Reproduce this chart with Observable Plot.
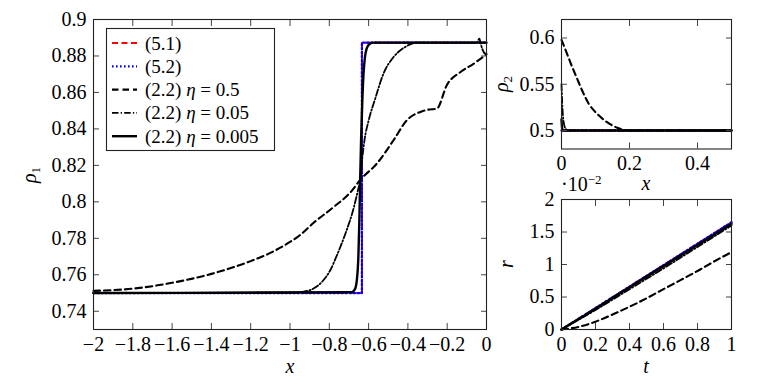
<!DOCTYPE html>
<html><head><meta charset="utf-8">
<script src="https://cdn.jsdelivr.net/npm/d3@7"></script>
<script src="https://cdn.jsdelivr.net/npm/@observablehq/plot@0.6"></script>
<style>
body{margin:0;background:#fff;}
#wrap{position:relative;width:769px;height:384px;font-family:"Liberation Serif",serif;}
#wrap svg{position:absolute;left:0;top:0;}
</style></head><body><div id="wrap"></div>
<script>
// ---------- data ----------
const legendLabels = ["(5.1)", "(5.2)", "(2.2) η = 0.5", "(2.2) η = 0.05", "(2.2) η = 0.005"];

// rho_1 panel
const r1x_51 = [-2, -0.634, -0.634, 0];
const r1y_51 = [0.75, 0.75, 0.8873, 0.8873];
const r1x_52 = [-2, -0.634, -0.634, 0];
const r1y_52 = [0.75, 0.75, 0.8873, 0.8873];
const r1x_e05 = [-2, -1.8, -1.6, -1.4, -1.2, -1.1, -1.0, -0.95, -0.88, -0.78, -0.69, -0.643, -0.558, -0.473, -0.405, -0.337, -0.30, -0.252, -0.202, -0.134, -0.066, 0];
const r1y_e05 = [0.7512, 0.7524, 0.7556, 0.7605, 0.7675, 0.772, 0.778, 0.7817, 0.7885, 0.797, 0.8055, 0.812, 0.821, 0.8338, 0.8448, 0.8493, 0.8505, 0.8512, 0.864, 0.8711, 0.8757, 0.881];
const r1x_e005 = [-2, -1.0, -0.93, -0.88, -0.83, -0.795, -0.76, -0.715, -0.68, -0.655, -0.643, -0.632, -0.62, -0.6, -0.566, -0.524, -0.473, -0.414, -0.354, -0.05, -0.036, -0.03, -0.02, -0.01, 0];
const r1y_e005 = [0.75, 0.7502, 0.7508, 0.7525, 0.757, 0.7625, 0.771, 0.7835, 0.795, 0.806, 0.812, 0.824, 0.8345, 0.8445, 0.8567, 0.8704, 0.8794, 0.8849, 0.8873, 0.8873, 0.8895, 0.887, 0.8835, 0.8815, 0.881];
const r1x_e0005 = [-2, -0.685, -0.67, -0.66, -0.652, -0.647, -0.643, -0.638, -0.632, -0.626, -0.62, -0.61, -0.595, -0.575, 0];
const r1y_e0005 = [0.75, 0.7505, 0.752, 0.757, 0.77, 0.79, 0.812, 0.835, 0.855, 0.87, 0.878, 0.884, 0.8866, 0.8873, 0.8873];

// rho_2 panel
const r2x_51 = [0, 0.5];
const r2y_51 = [0.5, 0.5];
const r2x_52 = [0, 0.5];
const r2y_52 = [0.5, 0.5];
const r2x_e05 = [0, 0.012, 0.031, 0.046, 0.061, 0.08, 0.105, 0.134, 0.164, 0.2, 0.5];
const r2y_e05 = [0.598, 0.587, 0.569, 0.556, 0.543, 0.529, 0.518, 0.509, 0.503, 0.5, 0.5];
const r2x_e005 = [0, 0.002, 0.006, 0.012, 0.02, 0.5];
const r2y_e005 = [0.55, 0.53, 0.51, 0.502, 0.5, 0.5];
const r2x_e0005 = [0, 0.002, 0.004, 0.5];
const r2y_e0005 = [0.512, 0.502, 0.5, 0.5];

// r(t) panel (values x 10^-2)
const rt_t = [0, 0.2, 0.4, 0.6, 0.8, 1];
const rt_51 = [0, 0.33, 0.66, 0.99, 1.32, 1.65];
const rt_52 = [0, 0.33, 0.66, 0.99, 1.32, 1.65];
const rt_t05 = [0, 0.1, 0.2, 0.3, 0.4, 0.5, 0.6, 0.7, 0.8, 0.9, 1];
const rt_e05 = [0, 0.04, 0.12, 0.23, 0.35, 0.48, 0.62, 0.76, 0.9, 1.05, 1.19];
const rt_e005 = [0, 0.30, 0.62, 0.94, 1.27, 1.60];
const rt_e0005 = [0, 0.32, 0.65, 0.975, 1.30, 1.625];

// tick values
const mainXTicks = [-2, -1.8, -1.6, -1.4, -1.2, -1, -0.8, -0.6, -0.4, -0.2, 0];
const mainYTicks = [0.74, 0.76, 0.78, 0.8, 0.82, 0.84, 0.86, 0.88, 0.9];
const r2XTicks = [0, 0.2, 0.4];
const r2YTicks = [0.5, 0.55, 0.6];
const rtXTicks = [0, 0.2, 0.4, 0.6, 0.8, 1];
const rtYTicks = [0, 0.5, 1, 1.5, 2];

// ---------- styles ----------
const styles = [
  {stroke: "#ff0000", strokeWidth: 2, strokeDasharray: "6,3.5"},
  {stroke: "#0000ff", strokeWidth: 2.2, strokeDasharray: "1.6,2.4"},
  {stroke: "#000", strokeWidth: 2.1, strokeDasharray: "6.5,4"},
  {stroke: "#000", strokeWidth: 1.8, strokeDasharray: "6.5,2.2,1.3,2.2"},
  {stroke: "#000", strokeWidth: 2.4, strokeDasharray: null}
];

const zip = (xs, ys) => xs.map((x, i) => ({x, y: ys[i]}));
const fmt = d => { const s = String(+Math.abs(d).toFixed(3)); return d < 0 ? "\u2212" + s : s; };

function panel(o) {
  const lines = o.series.map((s, i) => Plot.line(s, {
    x: "x", y: "y", curve: (i >= 2 ? "monotone-x" : "linear"),
    stroke: styles[i].stroke, strokeWidth: styles[i].strokeWidth,
    strokeDasharray: styles[i].strokeDasharray, strokeLinejoin: "round"
  }));
  return Plot.plot({
    width: 769, height: 384,
    marginLeft: o.ml, marginRight: o.mr, marginTop: o.mt, marginBottom: o.mb,
    style: {background: "transparent", fontFamily: "Liberation Serif", fontSize: "20px", overflow: "visible", color: "black"},
    x: {domain: o.xd, label: null},
    y: {domain: o.yd, label: null},
    marks: [
      ...lines,
      Plot.axisX(o.xt, {anchor: "bottom", tickSize: 6, dy: -6, tickFormat: () => "", label: null, stroke: "#444"}),
      Plot.axisX(o.xt, {anchor: "top", tickSize: 6, dy: 6, tickFormat: () => "", label: null, stroke: "#444"}),
      Plot.axisY(o.yt, {anchor: "left", tickSize: 6, dx: 6, tickFormat: () => "", label: null, stroke: "#444"}),
      Plot.axisY(o.yt, {anchor: "right", tickSize: 6, dx: -6, tickFormat: () => "", label: null, stroke: "#444"}),
      Plot.axisX(o.xt, {anchor: "bottom", tickSize: 0, tickPadding: 7, tickFormat: fmt, label: null, fill: "black"}),
      Plot.axisY(o.yt, {anchor: "left", tickSize: 0, tickPadding: 7, tickFormat: fmt, label: null, fill: "black"}),
      Plot.frame({stroke: "#222", strokeWidth: 1.1})
    ]
  });
}

const wrap = document.getElementById("wrap");

wrap.append(panel({
  ml: 93, mr: 283, mt: 19, mb: 55,
  xd: [-2, 0], yd: [0.73, 0.9], xt: mainXTicks, yt: mainYTicks,
  series: [zip(r1x_51, r1y_51), zip(r1x_52, r1y_52), zip(r1x_e05, r1y_e05), zip(r1x_e005, r1y_e005), zip(r1x_e0005, r1y_e0005)]
}));

wrap.append(panel({
  ml: 561, mr: 38, mt: 19, mb: 235.5,
  xd: [0, 0.5], yd: [0.48, 0.62], xt: r2XTicks, yt: r2YTicks,
  series: [zip(r2x_51, r2y_51), zip(r2x_52, r2y_52), zip(r2x_e05, r2y_e05), zip(r2x_e005, r2y_e005), zip(r2x_e0005, r2y_e0005)]
}));

wrap.append(panel({
  ml: 561, mr: 38, mt: 199, mb: 55,
  xd: [0, 1], yd: [0, 2], xt: rtXTicks, yt: rtYTicks,
  series: [zip(rt_t, rt_51), zip(rt_t, rt_52), zip(rt_t05, rt_e05), zip(rt_t, rt_e005), zip(rt_t, rt_e0005)]
}));

// ---------- labels and legend overlay ----------
const ov = d3.select(wrap).append("svg")
  .attr("width", 769).attr("height", 384)
  .style("font-family", "Liberation Serif").style("font-size", "20px");

function ital(x, y, txt, rot) {
  const t = ov.append("text").attr("text-anchor", "middle").attr("font-style", "italic")
    .attr("transform", `translate(${x},${y})` + (rot ? " rotate(-90)" : ""));
  t.append("tspan").text(txt);
  return t;
}
ital(290, 373, "x");
ital(646, 190, "x");
ital(646, 373, "t");
const rho1 = ital(36, 175, "\u03c1", true);
rho1.append("tspan").attr("dy", 4).attr("font-size", 13).attr("font-style", "normal").text("1");
const rho2 = ital(508, 84, "\u03c1", true);
rho2.append("tspan").attr("dy", 4).attr("font-size", 13).attr("font-style", "normal").text("2");
ital(513, 264, "r", true);

const sci = ov.append("text").attr("x", 561).attr("y", 191);
sci.append("tspan").text("\u00b710");
sci.append("tspan").attr("dy", -7).attr("font-size", 13).text("\u22122");

// legend
const lg = ov.append("g").style("font-size", "19px");
lg.append("rect").attr("x", 106.5).attr("y", 28.5).attr("width", 168).attr("height", 122)
  .attr("fill", "white").attr("stroke", "#222").attr("stroke-width", 1.1);
legendLabels.forEach((lab, i) => {
  const cy = 43 + i * 23.3;
  lg.append("line").attr("x1", 112).attr("x2", 137).attr("y1", cy).attr("y2", cy)
    .attr("stroke", styles[i].stroke).attr("stroke-width", styles[i].strokeWidth)
    .attr("stroke-dasharray", styles[i].strokeDasharray);
  const t = lg.append("text").attr("x", 145).attr("y", cy + 6.5);
  const parts = lab.split("η");
  t.append("tspan").text(parts[0]);
  if (parts.length > 1) {
    t.append("tspan").attr("font-style", "italic").text("η");
    t.append("tspan").text(parts[1]);
  }
});
</script></body></html>
